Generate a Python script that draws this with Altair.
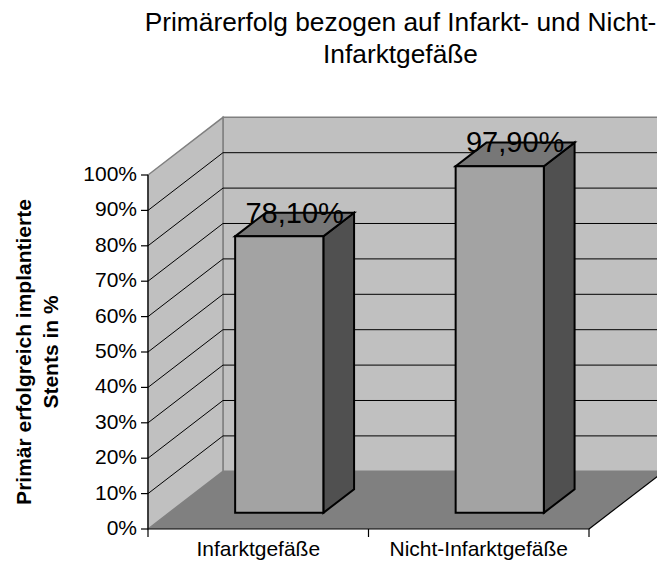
import altair as alt
import pandas as pd

# ---- data ----
categories = ["Infarktgefäße", "Nicht-Infarktgefäße"]
values = [78.1, 97.9]
y_ticks = [0, 10, 20, 30, 40, 50, 60, 70, 80, 90, 100]
grid_levels = [10, 20, 30, 40, 50, 60, 70, 80, 90]
title_lines = ["Primärerfolg bezogen auf Infarkt- und Nicht-", "Infarktgefäße"]
y_title = ["Primär erfolgreich implantierte", "Stents in %"]

# ---- 3D projection parameters (data units) ----
DX = 0.34      # depth offset along x
DY = 16.3      # depth offset along y
F0, F1 = 0.28, 0.69   # bar depth range (fraction of full depth)
HW = 0.2       # half bar width
N = len(categories)

PXU = 220.5    # pixels per category unit
PYU = 3.54     # pixels per percent
W, H = 509, 412
XDOM = W / PXU
YDOM = H / PYU
FONT = "Liberation Sans"

xs = alt.Scale(domain=[0, XDOM], nice=False, zero=False)
ys = alt.Scale(domain=[0, YDOM], nice=False, zero=False)


def X(f):
    return alt.X(f, type="quantitative", scale=xs, axis=None)


def Y(f):
    return alt.Y(f, type="quantitative", scale=ys, axis=None)


# back wall
back_df = pd.DataFrame({"x0": [DX], "x1": [N + DX], "y0": [DY], "y1": [100 + DY]})
back = alt.Chart(back_df).mark_rect(fill="#C0C0C0", stroke="#808080", strokeWidth=1.5).encode(
    x=X("x0"), x2="x1:Q", y=Y("y0"), y2="y1:Q")

# floor
floor_df = pd.DataFrame({"y": [0, DY], "x": [0, DX], "x2": [N, N + DX]})
floor = alt.Chart(floor_df).mark_area(orient="horizontal", fill="#808080", strokeWidth=0).encode(
    y=Y("y"), x=X("x"), x2="x2:Q")

# left wall
left_df = pd.DataFrame({"x": [0, DX], "y": [0, DY], "y2": [100, 100 + DY]})
left = alt.Chart(left_df).mark_area(orient="vertical", fill="#C0C0C0", stroke="#808080",
                                    strokeWidth=1.5).encode(
    x=X("x"), y=Y("y"), y2="y2:Q")

# gridlines
grid_rows = []
for g in grid_levels:
    grid_rows.append({"x": DX, "x2": N + DX, "y": DY + g, "y2": DY + g})
    grid_rows.append({"x": 0, "x2": DX, "y": g, "y2": g + DY})
grid = alt.Chart(pd.DataFrame(grid_rows)).mark_rule(color="black", strokeWidth=1).encode(
    x=X("x"), x2="x2:Q", y=Y("y"), y2="y2:Q")

# axis lines, ticks, floor right edge
YTICK = 7 / PXU
XTICK = 8 / PYU
line_rows = [
    {"x": 0, "x2": N, "y": 0, "y2": 0},            # category axis line
    {"x": N, "x2": N + DX, "y": 0, "y2": DY},      # floor right edge
    {"x": 0, "x2": 0, "y": 0, "y2": 100},          # value axis line
]
for t in y_ticks:
    line_rows.append({"x": -YTICK, "x2": 0, "y": t, "y2": t})
for i in range(N + 1):
    line_rows.append({"x": i, "x2": i, "y": -XTICK, "y2": 0})
lines = alt.Chart(pd.DataFrame(line_rows)).mark_rule(color="black", strokeWidth=1.2).encode(
    x=X("x"), x2="x2:Q", y=Y("y"), y2="y2:Q")

# y tick labels
ylab_df = pd.DataFrame({"x": [0] * len(y_ticks), "y": y_ticks,
                        "t": [f"{t}%" for t in y_ticks]})
ylabels = alt.Chart(ylab_df).mark_text(
    fontSize=21, font=FONT, color="black", align="right", baseline="middle", dx=-11).encode(
    x=X("x"), y=Y("y"), text="t:N")

# y axis title (two rotated lines)
ytitle_df = pd.DataFrame({"x": [-123 / PXU, -96 / PXU], "y": [50, 50], "t": y_title})
ytitle = alt.Chart(ytitle_df).mark_text(
    fontSize=21, font=FONT, fontWeight="bold", color="black", align="center",
    baseline="middle", angle=270).encode(x=X("x"), y=Y("y"), text="t:N")

# bars
front_rows, top_rows, side_rows, lab_rows = [], [], [], []
for i, v in enumerate(values):
    c = i + 0.5
    front_rows.append({"x0": c - HW + F0 * DX, "x1": c + HW + F0 * DX, "y0": F0 * DY, "y1": v + F0 * DY})
    top_rows.append({"bar": i, "y": v + F0 * DY, "x": c - HW + F0 * DX, "x2": c + HW + F0 * DX})
    top_rows.append({"bar": i, "y": v + F1 * DY, "x": c - HW + F1 * DX, "x2": c + HW + F1 * DX})
    side_rows.append({"bar": i, "x": c + HW + F0 * DX, "y": F0 * DY, "y2": v + F0 * DY})
    side_rows.append({"bar": i, "x": c + HW + F1 * DX, "y": F1 * DY, "y2": v + F1 * DY})
    lab_rows.append({"x": c + (F0 + F1) / 2 * DX, "y": v + (F0 + F1) / 2 * DY,
                     "label": f"{v:.2f}".replace(".", ",") + "%"})

side = alt.Chart(pd.DataFrame(side_rows)).mark_area(
    orient="vertical", fill="#505050", stroke="black", strokeWidth=2, strokeJoin="miter").encode(
    x=X("x"), y=Y("y"), y2="y2:Q", detail="bar:N")
top = alt.Chart(pd.DataFrame(top_rows)).mark_area(
    orient="horizontal", fill="#777777", stroke="black", strokeWidth=2, strokeJoin="miter").encode(
    y=Y("y"), x=X("x"), x2="x2:Q", detail="bar:N")
front = alt.Chart(pd.DataFrame(front_rows)).mark_rect(
    fill="#A3A3A3", stroke="black", strokeWidth=2).encode(
    x=X("x0"), x2="x1:Q", y=Y("y0"), y2="y1:Q")

labels = alt.Chart(pd.DataFrame(lab_rows)).mark_text(
    fontSize=29, font=FONT, color="black", align="center", baseline="alphabetic", dy=-2).encode(
    x=X("x"), y=Y("y"), text="label:N")

cat_df = pd.DataFrame({"x": [i + 0.5 for i in range(N)], "y": [0] * N, "cat": categories})
cats = alt.Chart(cat_df).mark_text(
    fontSize=21, font=FONT, color="black", align="center", baseline="alphabetic", dy=27).encode(
    x=X("x"), y=Y("y"), text="cat:N")

chart = alt.layer(back, floor, left, grid, lines, ylabels, ytitle, side, top, front, labels, cats).properties(
    width=W, height=H,
    autosize=alt.AutoSizeParams(type="none"),
    padding={"left": 140, "top": 109, "right": 0, "bottom": 31},
    title=alt.TitleParams(text=title_lines, fontSize=26.3, fontWeight="normal", font=FONT,
                          lineHeight=32.7, anchor="middle", frame="group", dx=-2, offset=45.5,
                          color="black"),
).configure(font=FONT, background="white").configure_view(strokeWidth=0)

chart.save("out.html", embed_options={"renderer": "svg", "actions": False})
